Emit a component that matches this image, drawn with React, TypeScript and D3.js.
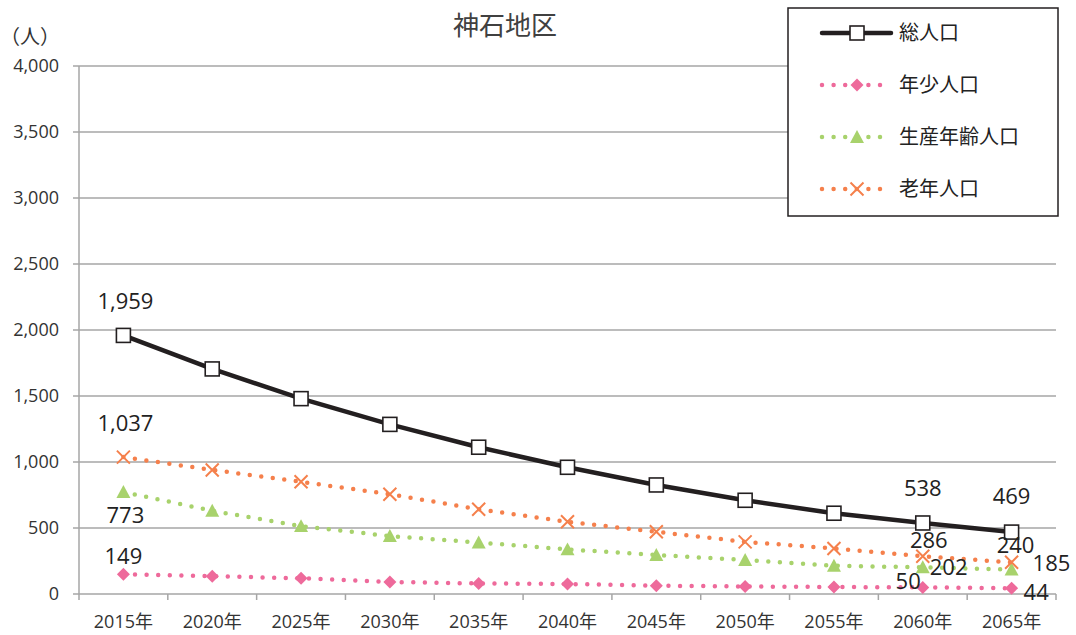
import React from "react";
import * as d3 from "d3";

const years = ["2015年", "2020年", "2025年", "2030年", "2035年", "2040年", "2045年", "2050年", "2055年", "2060年", "2065年"];
const total = [1959, 1705, 1480, 1285, 1112, 960, 826, 710, 612, 538, 469];
const young = [149, 135, 119, 91, 80, 76, 63, 57, 53, 50, 44];
const working = [773, 630, 514, 439, 390, 338, 295, 258, 214, 202, 185];
const elderly = [1037, 940, 850, 756, 642, 547, 471, 395, 345, 286, 240];
const yTicks = [0, 500, 1000, 1500, 2000, 2500, 3000, 3500, 4000];

const W = 1076;
const H = 635;
const M = { left: 79, right: 1056, top: 66, bottom: 594 };
const FONT = "'Open Sans', 'Noto Sans CJK JP', sans-serif";
const CJK = "'Noto Sans CJK JP', sans-serif";

type Marker = "square" | "diamond" | "triangle" | "cross";
interface Series {
  name: string;
  values: number[];
  color: string;
  width: number;
  dotted: boolean;
  marker: Marker;
  // which points get a value label, and where the label sits relative to the point
  labels: { i: number; dx: number; dy: number; anchor: "start" | "middle" | "end" }[];
}

const series: Series[] = [
  {
    name: "総人口", values: total, color: "#231f20", width: 4.5, dotted: false, marker: "square",
    labels: [
      { i: 0, dx: 2, dy: -34, anchor: "middle" },
      { i: 9, dx: 0, dy: -35, anchor: "middle" },
      { i: 10, dx: 0, dy: -36, anchor: "middle" },
    ],
  },
  {
    name: "年少人口", values: young, color: "#ee6a9b", width: 4.5, dotted: true, marker: "diamond",
    labels: [
      { i: 0, dx: 0, dy: -18, anchor: "middle" },
      { i: 9, dx: -2, dy: -6, anchor: "end" },
      { i: 10, dx: 12, dy: 4, anchor: "start" },
    ],
  },
  {
    name: "生産年齢人口", values: working, color: "#a8d26c", width: 4.5, dotted: true, marker: "triangle",
    labels: [
      { i: 0, dx: 2, dy: 23, anchor: "middle" },
      { i: 9, dx: 7, dy: 0, anchor: "start" },
      { i: 10, dx: 21, dy: -6, anchor: "start" },
    ],
  },
  {
    name: "老年人口", values: elderly, color: "#f5804c", width: 4.5, dotted: true, marker: "cross",
    labels: [
      { i: 0, dx: 2, dy: -34, anchor: "middle" },
      { i: 9, dx: 6, dy: -16, anchor: "middle" },
      { i: 10, dx: 4, dy: -17, anchor: "middle" },
    ],
  },
];

function MarkerShape({ type, x, y, color }: { type: Marker; x: number; y: number; color: string }) {
  if (type === "square") {
    return <rect x={x - 7} y={y - 7} width={14} height={14} fill="#fff" stroke={color} strokeWidth={1.6} />;
  }
  if (type === "diamond") {
    const s = 6.5;
    return <path d={`M${x},${y - s}L${x + s},${y}L${x},${y + s}L${x - s},${y}Z`} fill={color} />;
  }
  if (type === "triangle") {
    const s = 7;
    return <path d={`M${x},${y - s}L${x + s},${y + s * 0.85}L${x - s},${y + s * 0.85}Z`} fill={color} />;
  }
  const s = 6.5;
  return (
    <path d={`M${x - s},${y - s}L${x + s},${y + s}M${x + s},${y - s}L${x - s},${y + s}`} stroke={color} strokeWidth={2} fill="none" />
  );
}

export default function App() {
  const x = d3.scaleBand<string>().domain(years).range([M.left, M.right]);
  const y = d3.scaleLinear().domain([0, 4000]).range([M.bottom, M.top]);
  const cx = (c: string) => (x(c) as number) + x.bandwidth() / 2;
  const fmt = d3.format(",");
  const line = d3.line<number>().x((_, i) => cx(years[i])).y((v) => y(v));

  const legendX = 788;
  const legendY = 8;
  const legendRows = [33, 85, 137, 189];

  return (
    <div style={{ position: "absolute", left: 0, top: 0 }}>
      <svg width={W} height={H} style={{ display: "block", fontFamily: FONT }}>
        <rect width={W} height={H} fill="#fff" />
        {/* gridlines with short ticks left of the axis */}
        {yTicks.map((t) => (
          <line key={t} x1={M.left - 6} x2={M.right} y1={y(t)} y2={y(t)} stroke="#a6a6a6" strokeWidth={1.5} />
        ))}
        <line x1={M.left} x2={M.left} y1={M.top} y2={M.bottom + 6} stroke="#a6a6a6" strokeWidth={1.5} />
        {years.map((c) => (
          <line key={c} x1={(x(c) as number) + x.bandwidth()} x2={(x(c) as number) + x.bandwidth()} y1={M.bottom} y2={M.bottom + 6} stroke="#a6a6a6" strokeWidth={1.5} />
        ))}
        {yTicks.map((t) => (
          <text key={t} x={59} y={y(t)} dy="0.35em" textAnchor="end" fontSize={18} fill="#333">
            {fmt(t)}
          </text>
        ))}
        {years.map((c) => (
          <text key={c} x={cx(c)} y={622} dy="0.35em" textAnchor="middle" fontSize={18} fill="#333">
            {c}
          </text>
        ))}
        <text x={30} y={37} dy="0.35em" textAnchor="middle" fontSize={20} fill="#333" fontFamily={CJK}>（人）</text>
        <text x={505} y={26} dy="0.35em" textAnchor="middle" fontSize={26} fill="#404040" fontFamily={CJK}>神石地区</text>

        {/* series lines and markers */}
        {series.map((s) => (
          <g key={s.name}>
            <path
              d={line(s.values) as string}
              fill="none"
              stroke={s.color}
              strokeWidth={s.width}
              strokeLinecap="round"
              strokeLinejoin="round"
              strokeDasharray={s.dotted ? "0 11.6" : undefined}
            />
            {s.values.map((v, i) => (
              <MarkerShape key={i} type={s.marker} x={cx(years[i])} y={y(v)} color={s.color} />
            ))}
          </g>
        ))}
        {/* value labels */}
        {series.map((s) =>
          s.labels.map((l) => (
            <text
              key={s.name + l.i}
              x={cx(years[l.i]) + l.dx}
              y={y(s.values[l.i]) + l.dy}
              dy="0.35em"
              textAnchor={l.anchor}
              fontSize={22}
              fill="#222"
            >
              {fmt(s.values[l.i])}
            </text>
          ))
        )}

        {/* legend */}
        <rect x={legendX} y={legendY} width={270} height={208} fill="#fff" stroke="#231f20" strokeWidth={1.5} />
        {series.map((s, k) => {
          const ry = legendRows[k];
          return (
            <g key={s.name}>
              <line
                x1={822}
                x2={891}
                y1={ry}
                y2={ry}
                stroke={s.color}
                strokeWidth={s.width}
                strokeLinecap="round"
                strokeDasharray={s.dotted ? "0 11.6" : undefined}
              />
              <MarkerShape type={s.marker} x={857} y={ry} color={s.color} />
              <text x={899} y={ry} dy="0.35em" fontSize={20} fill="#222" fontFamily={CJK}>
                {s.name}
              </text>
            </g>
          );
        })}
      </svg>
    </div>
  );
}
